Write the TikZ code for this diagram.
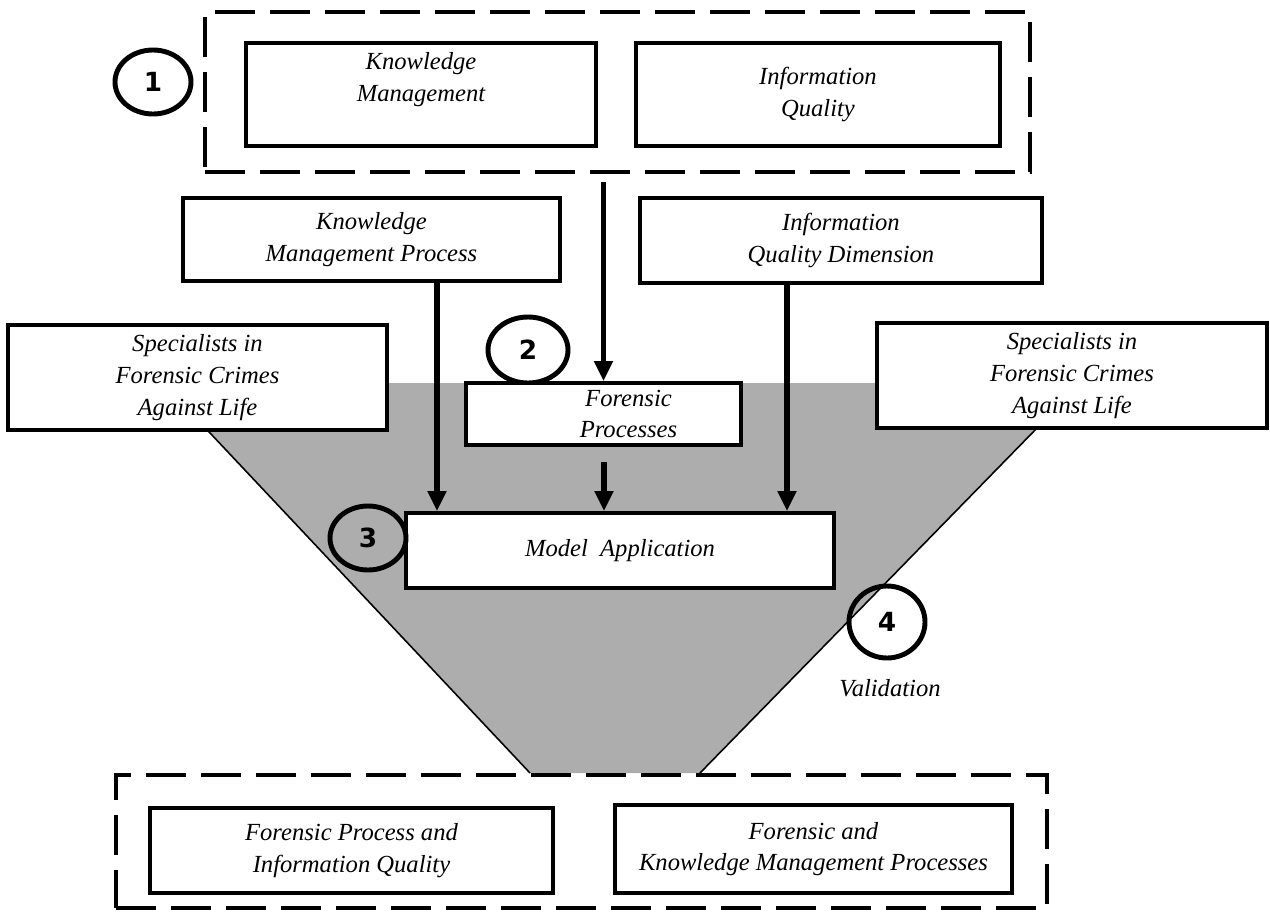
\documentclass[tikz,border=0pt]{standalone}
\usepackage{fontspec}
\setmainfont{Liberation Serif}
\newfontfamily\numfont{DejaVu Sans}
\usepackage{tikz}
\usetikzlibrary{positioning,arrows.meta,shapes.geometric}

\begin{document}
\begin{tikzpicture}[x=0.2mm,y=-0.2mm,
                    every node/.style={font=\fontsize{14}{18}\selectfont\itshape},
                    box/.style={draw,line width=2.2pt,fill=white,align=center,
                                inner sep=0pt},
                    grp/.style={draw,line width=2.8pt,dash pattern=on 8mm off 3mm,
                                inner sep=0pt},
                    num/.style={ellipse,draw,line width=2.8pt,inner sep=0pt,
                                font=\fontsize{15}{15}\selectfont\numfont\bfseries},
                    arr/.style={line width=3pt,-{Triangle[length=4mm,width=3.6mm]}}]
  \useasboundingbox (0,0) rectangle (1270,913);

  % shaded funnel
  \fill[black!32] (163,383) -- (1081,383) -- (700,773) -- (530,773) -- cycle;
  \draw[line width=0.9pt] (163,383) -- (530,773);
  \draw[line width=0.9pt] (1081,383) -- (700,773);

  % top group
  \node[grp,minimum width=165mm,minimum height=32mm] (topgrp) at (617.5,92) {};
  \node[box,minimum width=70mm,minimum height=20.6mm,
        label={[align=center,yshift=3mm]center:Knowledge\\Management}] (km) at (421,94.5) {};
  \node[box,minimum width=72.8mm,minimum height=20.6mm] (iq) at (818,94.5)
       {Information\\Quality};
  \node[num,minimum width=15.2mm,minimum height=12.8mm] (n1) at (153,82) {1};

  \node[box,minimum width=75.4mm,minimum height=16.6mm] (kmp) at (371.5,239.5)
       {Knowledge\\Management Process};
  \node[box,minimum width=80.4mm,minimum height=17mm] (iqd) at (841,240.5)
       {Information\\Quality Dimension};

  \node[box,minimum width=75.8mm,minimum height=21mm] (specl) at (197.5,377.5)
       {Specialists in\\Forensic Crimes\\Against Life};
  \node[box,minimum width=78mm,minimum height=21mm] (specr) at (1072,375.5)
       {Specialists in\\Forensic Crimes\\Against Life};

  \node[num,minimum width=16mm,minimum height=13.2mm] (n2) at (528,350) {2};
  \node[box,minimum width=55mm,minimum height=12.4mm] (fp) at (603.5,414)
       {\hspace*{10mm}Forensic\\\hspace*{10mm}Processes};

  \node[box,minimum width=85.6mm,minimum height=15mm] (ma) at (620,550.5)
       {Model\ \ Application};
  \node[num,minimum width=15.2mm,minimum height=12.8mm] (n3) at (368,538) {3};
  \node[num,minimum width=15.2mm,minimum height=14.4mm] (n4) at (887,622) {4};
  \node (val) at (890,688) {Validation};

  % bottom group
  \node[grp,minimum width=186.2mm,minimum height=26.6mm] (botgrp) at (581.5,841.5) {};
  \node[box,minimum width=80.6mm,minimum height=17mm] (fpiq) at (351.5,850.5)
       {Forensic Process and\\Information Quality};
  \node[box,minimum width=79.4mm,minimum height=17.6mm] (fkmp) at (813.5,849)
       {Forensic and\\Knowledge Management Processes};

  % arrows
  \draw[arr,shorten <=1.6mm] (fp.north |- topgrp.south) -- (fp.north);
  \draw[arr] (kmp.south -| 437,0) -- (ma.north -| 437,0);
  \draw[arr] (iqd.south -| 787,0) -- (ma.north -| 787,0);
  \draw[arr,shorten <=3mm] (fp.south -| 604,0) -- (ma.north -| 604,0);
\end{tikzpicture}
\end{document}
